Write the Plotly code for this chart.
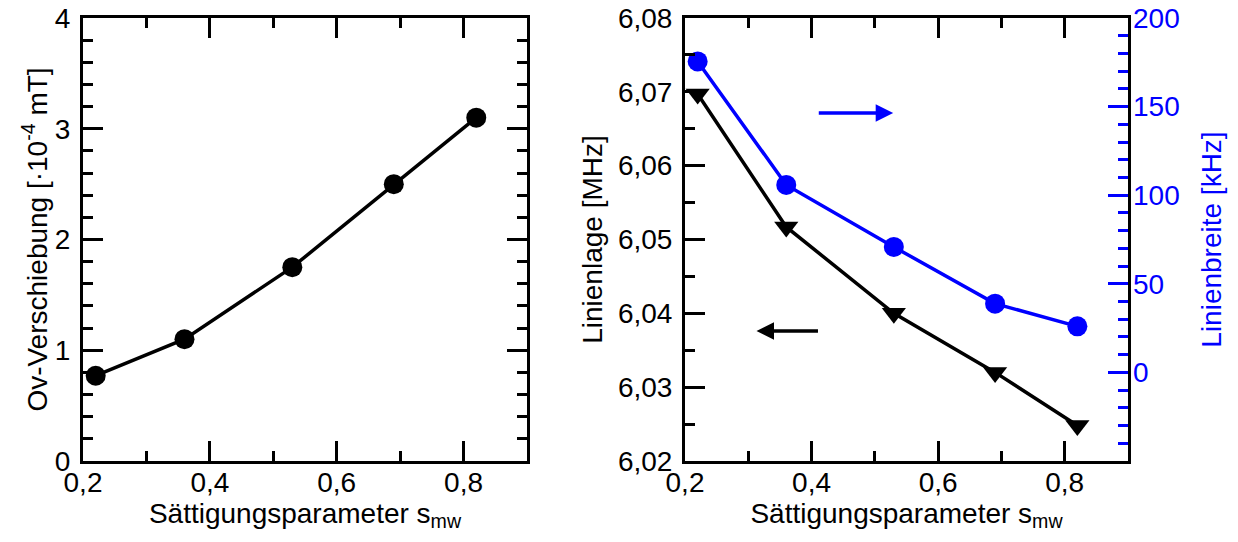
import plotly.graph_objects as go

# ---- data ----
s_mw = [0.22, 0.36, 0.53, 0.69, 0.82]
ov_shift = [0.77, 1.10, 1.75, 2.50, 3.10]          # [1e-4 mT]
line_pos = [6.0697, 6.0517, 6.0400, 6.0320, 6.0248]  # [MHz]
line_wid = [175.5, 105.8, 70.8, 38.8, 26.0]          # [kHz]

x_tickvals = [0.2, 0.4, 0.6, 0.8]
x_ticktext = ["0,2", "0,4", "0,6", "0,8"]
y1_tickvals = [0, 1, 2, 3, 4]
y1_ticktext = ["0", "1", "2", "3", "4"]
y2_tickvals = [6.02, 6.03, 6.04, 6.05, 6.06, 6.07, 6.08]
y2_ticktext = ["6,02", "6,03", "6,04", "6,05", "6,06", "6,07", "6,08"]
y3_tickvals = [0, 50, 100, 150, 200]
y3_ticktext = ["0", "50", "100", "150", "200"]

# arrows: (tail_x, head_x, y)
blue_arrow = (0.409, 0.529, 146.4)
black_arrow = (0.4125, 0.313, 6.0376)

BLUE = "#0000ff"
FONT = "Liberation Sans, Arial, sans-serif"
FS = 28

W, H = 1238, 542
def dx(a, b):
    return [a / W, b / W]
ydom = [(H - 461) / H, (H - 18) / H]

fig = go.Figure()
fig.add_trace(go.Scatter(x=s_mw, y=ov_shift, mode="lines+markers", xaxis="x", yaxis="y",
                         line=dict(color="black", width=3.5),
                         marker=dict(symbol="circle", size=20, color="black"),
                         showlegend=False))
fig.add_trace(go.Scatter(x=s_mw, y=line_pos, mode="lines+markers", xaxis="x2", yaxis="y2",
                         line=dict(color="black", width=3.5),
                         marker=dict(symbol="triangle-down", size=21, color="black"),
                         showlegend=False))
fig.add_trace(go.Scatter(x=s_mw, y=line_wid, mode="lines+markers", xaxis="x2", yaxis="y3",
                         line=dict(color=BLUE, width=3.5),
                         marker=dict(symbol="circle", size=20, color=BLUE),
                         showlegend=False))

common = dict(showgrid=False, zeroline=False, showline=True, linecolor="black", linewidth=3,
              ticks="inside", ticklen=20, tickwidth=3, tickcolor="black",
              tickfont=dict(family=FONT, size=FS, color="black"), automargin=False)

xa = dict(common, range=[0.2, 0.9], tickvals=x_tickvals, ticktext=x_ticktext, mirror="ticks",
          minor=dict(ticks="inside", ticklen=10, tickwidth=3, dtick=0.1, tick0=0.2, tickcolor="black"),
          ticklabelstandoff=-6,
          title=dict(text="Sättigungsparameter s<sub>mw</sub>", font=dict(family=FONT, size=FS, color="black"),
                     standoff=4))

fig.update_layout(
    width=W, height=H, margin=dict(l=0, r=0, t=0, b=0),
    paper_bgcolor="white", plot_bgcolor="white",
    xaxis=dict(xa, domain=dx(83, 527), anchor="y"),
    xaxis2=dict(xa, domain=dx(685, 1128), anchor="y2"),
    yaxis=dict(common, domain=ydom, anchor="x", range=[0, 4], tickvals=y1_tickvals, ticktext=y1_ticktext,
               mirror="ticks", ticklabelstandoff=4,
               minor=dict(ticks="inside", ticklen=10, tickwidth=3, dtick=0.2, tick0=0, tickcolor="black"),
               title=dict(text="Ov-Verschiebung [·10<sup>-4</sup> mT]",
                          font=dict(family=FONT, size=FS, color="black"), standoff=0)),
    yaxis2=dict(common, domain=ydom, anchor="x2", range=[6.02, 6.08], tickvals=y2_tickvals, ticktext=y2_ticktext,
                mirror=True, ticklabelstandoff=4,
                minor=dict(ticks="inside", ticklen=10, tickwidth=3, dtick=0.005, tick0=6.02, tickcolor="black"),
                title=dict(text="Linienlage [MHz]", font=dict(family=FONT, size=FS, color="black"), standoff=8)),
    yaxis3=dict(showgrid=False, zeroline=False, showline=False, overlaying="y2", anchor="x2", side="right",
                range=[-50, 200], tickvals=y3_tickvals, ticktext=y3_ticktext,
                ticks="inside", ticklen=20, tickwidth=3, tickcolor=BLUE, ticklabelstandoff=4,
                tickfont=dict(family=FONT, size=FS, color=BLUE), automargin=False,
                minor=dict(ticks="inside", ticklen=10, tickwidth=3, dtick=10, tick0=0, tickcolor=BLUE),
                title=dict(text="Linienbreite [kHz]", font=dict(family=FONT, size=FS, color=BLUE), standoff=22)),
    annotations=[
        dict(x=blue_arrow[1], y=blue_arrow[2], ax=blue_arrow[0], ay=blue_arrow[2],
             xref="x2", yref="y3", axref="x2", ayref="y3", showarrow=True, text="",
             arrowhead=2, arrowsize=1.0, arrowwidth=3.5, arrowcolor=BLUE, standoff=0),
        dict(x=black_arrow[1], y=black_arrow[2], ax=black_arrow[0], ay=black_arrow[2],
             xref="x2", yref="y2", axref="x2", ayref="y2", showarrow=True, text="",
             arrowhead=2, arrowsize=1.0, arrowwidth=3.5, arrowcolor="black", standoff=0),
    ],
)

fig.write_html("out.html")
